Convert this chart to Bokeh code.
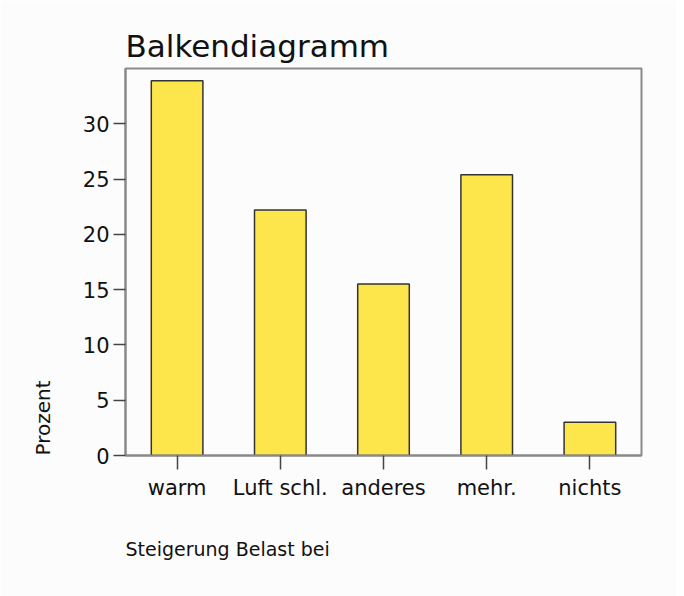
from bokeh.plotting import figure
from bokeh.models import FactorRange, Range1d, FixedTicker, Title, ColumnDataSource
from bokeh.embed import file_html
from bokeh.resources import INLINE

categories = ["warm", "Luft schl.", "anderes", "mehr.", "nichts"]
prozent = [33.9, 22.2, 15.5, 25.4, 3.0]
y_ticks = [0, 5, 10, 15, 20, 25, 30]

FONT = "DejaVu Sans"
BG = "#fcfcfc"

src = ColumnDataSource(data=dict(cat=categories, val=prozent))

p = figure(
    width=676, height=596,
    x_range=FactorRange(factors=categories, range_padding=0),
    y_range=Range1d(0, 35),
    output_backend="svg", toolbar_location=None,
    min_border_left=125, min_border_right=35,
    min_border_top=68, min_border_bottom=112,
    background_fill_color=BG, border_fill_color=BG,
)

p.vbar(x="cat", top="val", width=0.5, source=src,
       fill_color="#fce64c", line_color="#333333", line_width=1.5)

p.title.text = "Balkendiagramm"
p.title.align = "left"
p.title.text_font = FONT
p.title.text_font_size = "31px"
p.title.text_font_style = "normal"
p.title.text_color = "#111111"
p.title.standoff = 9

p.outline_line_color = "#8a8a8a"
p.outline_line_width = 2
p.grid.visible = False

for ax in (p.xaxis, p.yaxis):
    ax.axis_line_color = "#8a8a8a"
    ax.axis_line_width = 2
    ax.major_tick_line_color = "#444444"
    ax.major_tick_line_width = 1.5
    ax.major_tick_in = 0
    ax.minor_tick_line_color = None
    ax.major_label_text_font = FONT
    ax.major_label_text_font_size = "21px"
    ax.major_label_text_color = "#111111"

p.yaxis.ticker = FixedTicker(ticks=y_ticks)
p.yaxis.major_tick_out = 12
p.yaxis.major_label_standoff = 4
p.xaxis.major_tick_out = 14
p.xaxis.major_label_standoff = 6

p.add_layout(Title(text="Prozent", align="left", text_font=FONT,
                   text_font_size="20px", text_font_style="normal",
                   text_color="#111111", standoff=50), "left")

p.add_layout(Title(text="Steigerung Belast bei", align="left", text_font=FONT,
                   text_font_size="19px", text_font_style="normal",
                   text_color="#111111", standoff=70, vertical_align="top"), "below")

open("out.html", "w").write(file_html(p, INLINE))
